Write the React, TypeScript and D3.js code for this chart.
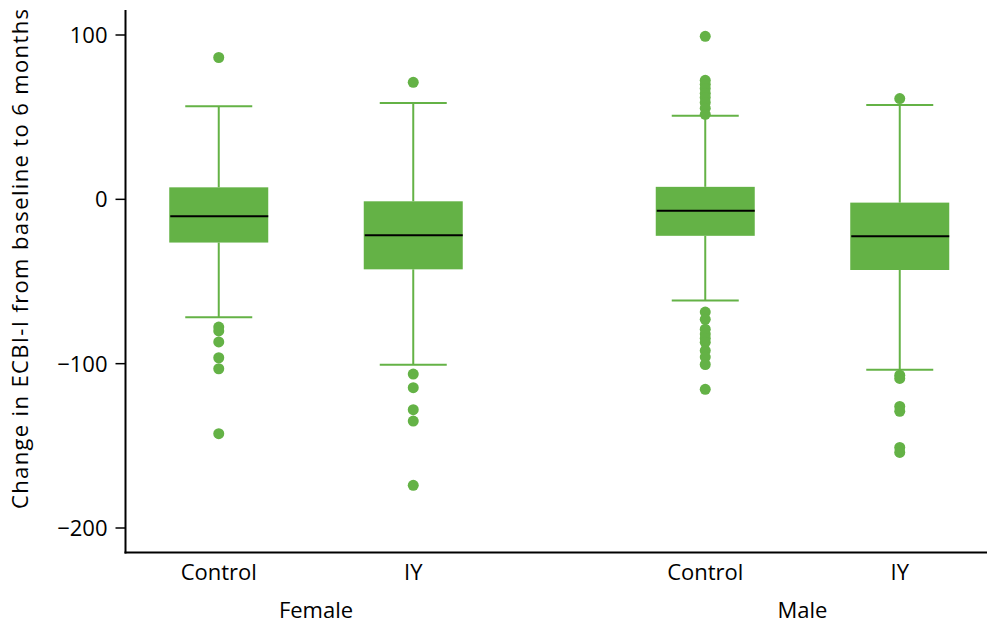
import React from "react";
import * as d3 from "d3";

// Groups and study arms
const groups = ["Female", "Male"];
const arms = ["Control", "IY"];

// Box statistics per group × arm: [lowerWhisker, q1, median, q3, upperWhisker]
const femaleControlStats = [-71.7, -26.3, -10.3, 7.3, 56.7];
const femaleIYStats = [-100.6, -42.6, -21.9, -1.2, 58.6];
const maleControlStats = [-61.5, -22.2, -6.9, 7.6, 50.8];
const maleIYStats = [-103.7, -43.0, -22.5, -2.0, 57.4];

// Outlying observations per group × arm
const femaleControlOutliers = [86.3, -77.7, -80.1, -86.8, -96.4, -103.1, -142.6];
const femaleIYOutliers = [71.2, -106.3, -114.6, -128.0, -134.9, -174.0];
const maleControlOutliers = [
  99.2, 72.4, 70.0, 67.5, 64.5, 62.0, 59.0, 55.5, 51.7,
  -68.6, -73.0, -79.0, -82.0, -84.5, -87.0, -92.0, -96.0, -100.5, -115.6,
];
const maleIYOutliers = [61.3, -107.0, -109.0, -126.0, -129.0, -151.0, -154.0];

// Y-axis ticks
const yTicks = [100, 0, -100, -200];

const series = [
  { group: "Female", arm: "Control", stats: femaleControlStats, outliers: femaleControlOutliers },
  { group: "Female", arm: "IY", stats: femaleIYStats, outliers: femaleIYOutliers },
  { group: "Male", arm: "Control", stats: maleControlStats, outliers: maleControlOutliers },
  { group: "Male", arm: "IY", stats: maleIYStats, outliers: maleIYOutliers },
];

const W = 987;
const H = 624;
const GREEN = "#64b246";
const FONT = "'Open Sans', 'Noto Sans', sans-serif";

export default function App() {
  const axisX = 125.5;
  const axisBottom = 552.5;
  const axisTop = 10;

  const y = d3.scaleLinear().domain([-200, 100]).range([528, 35]);
  const gx = d3.scalePoint<string>().domain(groups).range([316, 802.5]);
  const armOffset = d3.scalePoint<string>().domain(arms).range([-97.25, 97.25]);

  const boxW = 99;
  const capW = 67;
  const r = 5.5;

  return (
    <svg
      width={W}
      height={H}
      style={{ position: "absolute", left: 0, top: 0, background: "#fff" }}
      fontFamily={FONT}
    >
      {/* axes */}
      <line x1={axisX} x2={axisX} y1={axisTop} y2={axisBottom + 1} stroke="#000" strokeWidth={2} />
      <line x1={axisX - 1} x2={W} y1={axisBottom} y2={axisBottom} stroke="#000" strokeWidth={2} />
      {yTicks.map((t) => (
        <g key={t}>
          <line x1={axisX - 10} x2={axisX} y1={y(t)} y2={y(t)} stroke="#000" strokeWidth={1.5} />
          <text
            x={axisX - 18}
            y={y(t)}
            dy="0.36em"
            textAnchor="end"
            fontSize={22}
            fill="#000"
          >
            {t < 0 ? "\u2212" + Math.abs(t) : String(t)}
          </text>
        </g>
      ))}
      <text
        transform={`translate(28,259) rotate(-90)`}
        textAnchor="middle"
        fontSize={22}
        fill="#000"
        textLength={500}
        lengthAdjust="spacing"
      >
        Change in ECBI-I from baseline to 6 months
      </text>

      {/* boxes */}
      {series.map((s) => {
        const cx = (gx(s.group) as number) + (armOffset(s.arm) as number);
        const [lo, q1, med, q3, hi] = s.stats;
        return (
          <g key={s.group + s.arm}>
            <line x1={cx} x2={cx} y1={y(hi)} y2={y(q3)} stroke={GREEN} strokeWidth={2} />
            <line x1={cx} x2={cx} y1={y(q1)} y2={y(lo)} stroke={GREEN} strokeWidth={2} />
            <line x1={cx - capW / 2} x2={cx + capW / 2} y1={y(hi)} y2={y(hi)} stroke={GREEN} strokeWidth={2} />
            <line x1={cx - capW / 2} x2={cx + capW / 2} y1={y(lo)} y2={y(lo)} stroke={GREEN} strokeWidth={2} />
            <rect x={cx - boxW / 2} y={y(q3)} width={boxW} height={y(q1) - y(q3)} fill={GREEN} />
            <line x1={cx - boxW / 2 + 1} x2={cx + boxW / 2} y1={y(med)} y2={y(med)} stroke="#000" strokeWidth={2} />
            {s.outliers.map((v, i) => (
              <circle key={i} cx={cx} cy={y(v)} r={r} fill={GREEN} />
            ))}
            <text x={cx} y={580} textAnchor="middle" fontSize={22} fill="#000">
              {s.arm}
            </text>
          </g>
        );
      })}

      {/* group labels */}
      {groups.map((g) => (
        <text key={g} x={gx(g) as number} y={618} textAnchor="middle" fontSize={22} fill="#000">
          {g}
        </text>
      ))}
    </svg>
  );
}
